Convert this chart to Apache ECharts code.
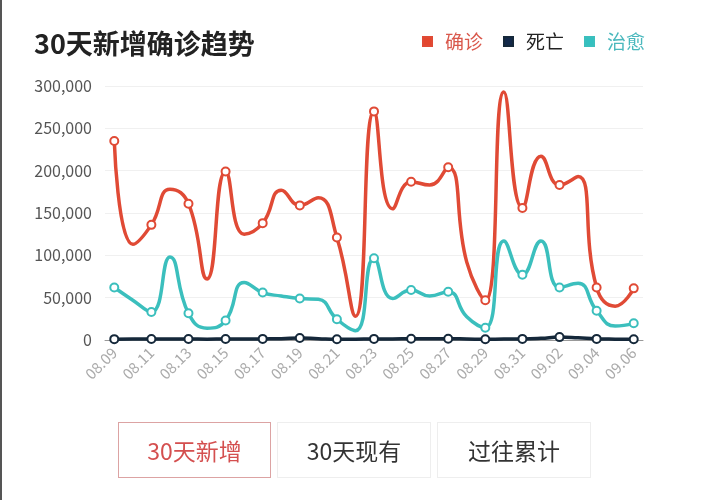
<!DOCTYPE html>
<html>
<head>
<meta charset="utf-8">
<script src="https://cdn.jsdelivr.net/npm/echarts@6/dist/echarts.min.js"></script>
<style>
html,body{margin:0;padding:0;background:#fff;}
#wrap{position:relative;width:707px;height:500px;overflow:hidden;background:#fff;}
#edge{position:absolute;left:0;top:0;width:2px;height:500px;background:#555;}
#chart{position:absolute;left:0;top:0;width:707px;height:500px;}
.btn{position:absolute;top:422px;height:56px;box-sizing:border-box;border:1px solid #eeeeee;
 font-family:"Noto Sans CJK SC",sans-serif;font-size:23px;color:#333;display:flex;align-items:center;justify-content:center;}
.btn.on{border-color:#dca3a3;color:#d44f4f;}
</style>
</head>
<body>
<div id="wrap">
<div id="chart"></div>
<div id="edge"></div>
<div class="btn on" style="left:118px;width:153px;">30天新增</div>
<div class="btn" style="left:277px;width:154px;">30天现有</div>
<div class="btn" style="left:437px;width:154px;">过往累计</div>
</div>
<script>
const categories = ['08.09','08.10','08.11','08.12','08.13','08.14','08.15','08.16','08.17','08.18','08.19','08.20','08.21','08.22','08.23','08.24','08.25','08.26','08.27','08.28','08.29','08.30','08.31','09.01','09.02','09.03','09.04','09.05','09.06'];
const confirmed = [235000,113000,136000,178000,161000,72000,199000,125000,138000,177000,159000,168000,121000,28000,270000,155000,187000,183000,204000,92000,47000,293000,156000,217000,183000,193000,62000,40000,61000];
const deaths = [1000,1100,1200,1100,1100,1000,1200,1100,1300,1500,2400,1600,900,1000,1300,1300,1400,1400,1500,1200,800,1200,1300,2000,3400,2600,1300,1000,900];
const recovered = [62000,47000,33000,98000,31500,14000,23000,68000,56000,52000,49000,48000,24500,11000,96500,49000,59000,52000,57000,27500,14500,117000,77000,117000,62000,67000,34600,16500,19700];
const yTicks = [0,50000,100000,150000,200000,250000,300000];

const FONT = '"Noto Sans CJK SC", sans-serif';
const chart = echarts.init(document.getElementById('chart'), null, {renderer:'canvas'});
function mk(name, data, color){
  return {
    name: name, type: 'line', data: data, smooth: true,
    showAllSymbol: false, symbol: 'circle', symbolSize: 8,
    lineStyle: {width: 3.5, color: color},
    itemStyle: {color: '#fff', borderColor: color, borderWidth: 2},
    emphasis: {disabled: true}
  };
}
chart.setOption({
  animation: false,
  title: {text: '30天新增确诊趋势', left: 29, top: 25,
    textStyle: {fontFamily: FONT, fontSize: 27, fontWeight: 'bold', color: '#222'}},
  legend: {
    right: 57, top: 27, icon: 'rect', itemWidth: 9, itemHeight: 9, itemGap: 20,
    textStyle: {fontFamily: FONT, fontSize: 19, padding: [0,0,0,8]},
    data: [
      {name: '确诊', itemStyle:{color:'#e3462e'}, textStyle:{color:'#d9584c'}},
      {name: '死亡', itemStyle:{color:'#13294a'}, textStyle:{color:'#222'}},
      {name: '治愈', itemStyle:{color:'#34c0c0'}, textStyle:{color:'#4ab8bd'}}
    ]
  },
  grid: {left: 105, right: 64, top: 86, bottom: 160},
  xAxis: {
    type: 'category', data: categories, boundaryGap: true,
    axisLine: {lineStyle: {color: '#999', width: 1}},
    axisTick: {show: false},
    axisLabel: {interval: 1, rotate: 45, color: '#aaa', fontFamily: FONT, fontSize: 15, margin: 10}
  },
  yAxis: {
    type: 'value', min: 0, max: 300000, interval: 50000,
    axisLine: {show: false}, axisTick: {show: false},
    splitLine: {lineStyle: {color: '#f0f0f0', width: 1}},
    axisLabel: {color: '#555', fontFamily: FONT, fontSize: 16, margin: 13,
      formatter: function(v){ return v.toLocaleString('en-US'); }}
  },
  series: [
    mk('确诊', confirmed, '#e04a35'),
    mk('死亡', deaths, '#15283a'),
    mk('治愈', recovered, '#3bbfbd')
  ]
});
</script>
</body>
</html>
